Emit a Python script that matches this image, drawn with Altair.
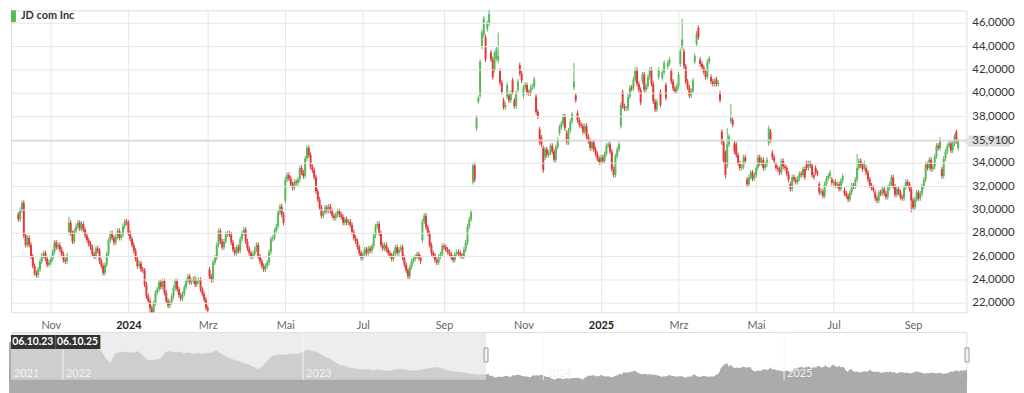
import altair as alt
import pandas as pd

# ---------------- daily closes (JD com Inc) ----------------
c_2023_10 = [29.2, 30.0, 30.6, 27.8, 27.0, 27.6, 27.0, 26.0, 25.2, 24.6, 24.4, 24.9, 25.6, 26.1, 26.3, 25.8, 25.3, 25.5]
c_2023_11 = [25.8, 26.4, 27.2, 26.8, 27.0, 26.6, 26.2, 25.7, 25.6, 26.1, 28.9, 28.0, 27.3, 28.2, 28.6, 28.9, 28.4, 28.8, 28.3, 27.8, 27.4, 27.1]
c_2023_12 = [26.8, 26.2, 26.0, 26.7, 26.5, 25.6, 25.2, 24.6, 25.3, 26.2, 27.4, 28.0, 27.6, 27.2, 27.7, 28.2, 27.6, 27.9, 28.6, 29.0, 28.9]
c_2024_01 = [28.0, 27.5, 27.0, 26.5, 25.8, 25.2, 25.4, 24.9, 24.8, 23.6, 22.6, 22.2, 21.6, 21.1, 22.0, 22.9, 23.2, 23.8, 23.4, 23.9, 22.9, 22.2, 21.8]
c_2024_02 = [22.1, 22.6, 23.3, 23.9, 23.2, 22.7, 22.4, 22.8, 23.4, 23.9, 24.3, 23.8, 23.9, 24.1, 23.6, 23.9, 24.0, 23.2, 22.8, 22.3, 21.6]
c_2024_03 = [21.4, 24.3, 24.0, 25.5, 25.9, 27.0, 28.2, 27.3, 26.8, 27.3, 27.9, 28.0, 27.9, 27.2, 26.6, 26.3, 26.8, 26.5, 27.5, 28.0, 28.3]
c_2024_04 = [27.3, 26.7, 26.3, 26.0, 26.2, 26.6, 27.0, 26.0, 25.6, 25.2, 24.9, 25.2, 25.5, 26.4, 27.5, 27.6, 28.2, 28.6, 29.8, 30.3, 29.6, 28.9]
c_2024_05 = [32.6, 33.0, 32.7, 32.2, 31.9, 32.4, 32.3, 32.6, 33.6, 33.2, 32.9, 34.4, 35.3, 34.7, 33.7, 33.4, 32.8, 31.6, 30.9, 30.2, 29.5, 29.8, 30.2]
c_2024_06 = [29.9, 30.3, 29.9, 29.5, 29.3, 29.6, 29.9, 29.6, 29.4, 28.9, 29.2, 28.9, 29.0, 28.7, 28.1, 27.6, 27.3, 26.8, 26.3, 25.9]
c_2024_07 = [26.2, 26.6, 26.3, 26.7, 26.5, 26.9, 27.8, 28.6, 28.8, 28.0, 27.0, 26.7, 27.0, 26.6, 26.3, 26.1, 25.8, 26.3, 26.8, 26.3, 26.6, 26.8, 25.9]
c_2024_08 = [25.3, 24.8, 24.3, 25.1, 25.6, 25.8, 26.0, 26.2, 25.9, 25.6, 29.0, 29.5, 28.5, 28.0, 27.0, 26.3, 26.1, 25.7, 25.5, 26.0, 26.2, 26.9]
c_2024_09 = [26.8, 26.6, 26.4, 26.2, 25.9, 25.7, 26.2, 26.4, 26.3, 26.1, 26.0, 26.6, 27.2, 28.6, 29.2, 29.8, 33.8, 32.6, 37.9, 39.6, 42.7]
c_2024_10 = [45.2, 46.4, 42.9, 46.0, 46.8, 42.9, 41.4, 43.4, 43.8, 43.2, 40.9, 40.1, 38.8, 39.0, 40.7, 39.4, 40.0, 40.1, 38.9, 40.0, 41.0, 41.7, 41.1]
c_2024_11 = [40.5, 40.7, 40.1, 40.0, 40.5, 40.6, 41.2, 38.4, 38.0, 35.8, 35.6, 33.4, 35.2, 34.7, 34.9, 35.5, 35.0, 34.3, 35.4, 36.0, 37.1]
c_2024_12 = [37.4, 38.0, 37.0, 35.8, 36.8, 37.6, 38.2, 41.0, 39.4, 37.7, 37.3, 37.2, 36.7, 37.2, 36.3, 35.9, 35.3, 35.8, 35.2, 34.8, 34.4, 34.1]
c_2025_01 = [34.5, 34.2, 34.8, 35.5, 35.6, 35.0, 33.5, 33.0, 34.6, 35.2, 35.6, 39.0, 38.9, 38.7, 38.7, 39.7, 40.5, 40.4, 41.2, 42.0, 40.8, 40.3, 39.2]
c_2025_02 = [41.6, 40.3, 40.6, 41.4, 42.0, 40.8, 39.3, 38.6, 39.3, 42.0, 39.0, 41.8, 42.6, 39.6, 42.6, 42.9, 41.0, 40.4, 40.2, 40.6]
c_2025_03 = [41.6, 43.6, 44.6, 42.3, 41.0, 40.5, 39.8, 40.2, 41.1, 43.2, 45.1, 44.8, 42.5, 42.2, 41.8, 41.4, 42.7, 43.0, 41.0, 40.8, 41.1]
c_2025_04 = [40.8, 40.9, 39.4, 35.8, 34.2, 33.0, 35.6, 36.3, 37.9, 37.3, 35.0, 34.7, 34.0, 33.6, 33.7, 34.5, 34.2, 32.2, 32.8, 33.2, 32.7, 33.0]
c_2025_05 = [33.6, 34.5, 34.0, 34.3, 33.6, 33.9, 34.3, 37.0, 36.0, 34.5, 34.2, 33.6, 33.5, 33.2, 34.2, 33.7, 33.6, 33.1, 32.6, 31.8, 32.8, 32.6]
c_2025_06 = [32.4, 32.7, 33.1, 33.0, 33.5, 32.8, 33.6, 34.0, 33.8, 33.0, 32.8, 33.2, 33.1, 31.5, 31.6, 31.2, 32.2, 32.7, 32.9, 33.2, 32.3]
c_2025_07 = [32.4, 32.1, 32.2, 31.8, 32.5, 32.9, 31.4, 31.2, 30.9, 31.5, 32.1, 32.0, 32.6, 33.6, 34.2, 33.8, 33.5, 34.0, 33.2, 32.6, 32.1, 31.9, 31.7]
c_2025_08 = [31.0, 30.8, 31.5, 31.4, 31.8, 31.4, 31.1, 31.9, 32.2, 32.8, 32.0, 31.3, 31.8, 31.5, 31.1, 31.0, 31.9, 32.4, 32.2, 31.8, 30.8]
c_2025_09 = [30.2, 30.9, 31.5, 31.0, 31.4, 32.0, 32.6, 33.9, 33.6, 34.3, 33.5, 33.7, 34.6, 35.5, 35.3, 36.0, 32.9, 34.4, 35.0, 35.5, 35.7, 35.1, 35.7, 36.3, 35.9, 35.91]

# opening prices where the day opened away from the previous close
gap_open = {0: 29.6, 28: 28.1, 106: 24.9, 148: 30.8, 224: 27.4, 252: 32.4, 254: 37.0, 255: 39.3,
            256: 39.8, 257: 44.0, 258: 45.0, 259: 44.8, 260: 45.5, 262: 43.5, 264: 42.0, 265: 43.0,
            266: 42.8, 267: 41.9, 269: 39.4, 271: 39.7, 272: 39.8, 274: 41.1, 275: 39.4, 277: 40.3,
            278: 42.4, 280: 39.8, 287: 39.7, 289: 36.9, 290: 36.2, 291: 35.3, 292: 34.5, 300: 36.6,
            304: 36.6, 308: 40.5, 309: 39.8, 310: 38.3, 334: 37.2, 335: 40.1, 346: 41.0, 355: 41.4,
            356: 40.1, 357: 41.3, 359: 40.7, 360: 42.3, 362: 41.9, 367: 42.5, 368: 43.9, 369: 43.6,
            375: 42.7, 376: 44.2, 377: 45.6, 378: 42.9, 384: 41.4, 387: 41.2, 389: 40.0, 390: 36.7,
            392: 34.9, 393: 33.8, 395: 37.6, 396: 37.7, 397: 35.7, 398: 35.6, 404: 32.6, 416: 35.7,
            417: 36.7, 418: 34.9, 420: 33.9, 428: 32.2, 437: 34.0, 442: 33.6, 444: 32.2, 451: 32.6,
            458: 31.7, 469: 33.6, 470: 33.6, 475: 31.5, 512: 33.5, 520: 36.7, 521: 35.3}
# long wicks visible in the chart
high_wick = {261: 47.6, 368: 46.4, 266: 45.2, 308: 42.6, 393: 37.0, 395: 39.1, 520: 36.9, 28: 29.4, 465: 34.8}
low_wick = {495: 29.8, 73: 20.9, 105: 21.0, 392: 32.7}

# navigator: weekly closes Oct 2021 - Oct 2023, then the daily series
nav_weekly = [80, 82, 85, 86, 89, 92, 88, 84, 80, 76, 72, 70, 74, 76, 75, 70, 76, 78, 74, 70,
              67, 55, 47.5, 62, 64, 65, 64, 64, 66, 60, 52.5, 52, 53, 55, 65, 66, 64, 65, 63, 64,
              62, 63, 62, 63, 64, 67, 62, 58, 55, 52, 50, 47, 45, 42, 37.5, 42, 50, 58, 60, 61,
              60, 62, 62, 62, 66, 68.5, 66, 64, 60, 56, 53, 48, 44, 43, 40, 39, 38, 37, 37.5, 36,
              37, 36, 35, 36, 37, 38, 37, 36, 35.5, 36, 38, 39, 40, 41, 39, 36, 35, 34, 33, 32,
              31, 30, 29, 29.5]

tick_labels = ["Nov", "2024", "Mrz", "Mai", "Jul", "Sep", "Nov", "2025", "Mrz", "Mai", "Jul", "Sep"]
y_ticks = [22, 24, 26, 28, 30, 32, 34, 36, 38, 40, 42, 44, 46]
year_labels = ["2021", "2022", "2023", "2024", "2025"]
range_labels = ["06.10.23", "06.10.25"]
series_name = "JD com Inc"
last_label = "35,9100"

GREEN = "#5cb85c"
RED = "#e03a3a"
FONT = "Lato"

closes = (c_2023_10 + c_2023_11 + c_2023_12 + c_2024_01 + c_2024_02 + c_2024_03 + c_2024_04 +
          c_2024_05 + c_2024_06 + c_2024_07 + c_2024_08 + c_2024_09 + c_2024_10 + c_2024_11 +
          c_2024_12 + c_2025_01 + c_2025_02 + c_2025_03 + c_2025_04 + c_2025_05 + c_2025_06 +
          c_2025_07 + c_2025_08 + c_2025_09)
dates = pd.bdate_range("2023-10-06", "2025-10-06")
n = len(closes)
assert n == len(dates), (n, len(dates))

WICK = 0.22
opens, highs, lows = [], [], []
for i in range(n):
    o = gap_open.get(i, closes[i - 1] if i > 0 else closes[0])
    c = closes[i]
    opens.append(o)
    highs.append(high_wick.get(i, max(o, c) + WICK))
    lows.append(low_wick.get(i, min(o, c) - WICK))

df = pd.DataFrame({"i": range(n), "date": dates, "open": opens, "close": closes,
                   "high": highs, "low": lows})
df["dir"] = ["up" if c >= o else "down" for o, c in zip(opens, closes)]

# ticks at first trading day of every second month
tick_idx = []
seen = set()
for i, d in enumerate(dates):
    key = (d.year, d.month)
    if key not in seen:
        seen.add(key)
        if d.month % 2 == 1 and i > 0:
            tick_idx.append(i)
assert len(tick_idx) == len(tick_labels)

expr = "''"
for ti, tl in reversed(list(zip(tick_idx, tick_labels))):
    expr = f"datum.value == {ti} ? '{tl}' : ({expr})"
bold_test = " || ".join(f"datum.value == {ti}" for ti, tl in zip(tick_idx, tick_labels) if tl.isdigit())

W, H = 962, 304
NH, GAP = 48, 20
xs = alt.Scale(domain=[-1.34, 522.8], nice=False, zero=False)
ys = alt.Scale(domain=[21.23, 47.11], nice=False, zero=False)

color = alt.Color("dir:N", scale=alt.Scale(domain=["up", "down"], range=[GREEN, RED]), legend=None)

x_axis = alt.Axis(values=tick_idx, labelExpr=expr, grid=True, gridColor="#e6e6e6", ticks=False,
                  domain=False, labelPadding=7, labelFontSize=11, labelFont=FONT,
                  labelColor={"condition": {"test": bold_test, "value": "#222222"}, "value": "#666666"},
                  labelFontWeight={"condition": {"test": bold_test, "value": "bold"}, "value": "normal"},
                  labelOverlap=False, labelFlush=False, title=None)

base = alt.Chart(df)
wicks = base.mark_rule(strokeWidth=1, clip=True).encode(
    x=alt.X("i:Q", scale=xs, axis=x_axis),
    y=alt.Y("low:Q", scale=ys, axis=None),
    y2="high:Q", color=color)
bodies = base.mark_bar(size=2, clip=True).encode(
    x="i:Q", y=alt.Y("open:Q", axis=None), y2="close:Q", color=color)

# horizontal grid lines and right-hand price labels
ygrid = pd.DataFrame({"v": y_ticks})
ygrid["lab"] = ["" if v == 36 else f"{v:.4f}".replace(".", ",") for v in y_ticks]
ygrid_l = alt.Chart(ygrid).mark_rule(color="#e6e6e6", strokeWidth=1).encode(
    y=alt.Y("v:Q", axis=None))
ylab_l = alt.Chart(ygrid).mark_text(align="left", baseline="middle", font=FONT, fontSize=11.5,
                                    color="#333333").encode(
    x=alt.value(W + 6), y=alt.Y("v:Q", axis=None), text="lab:N")

last = pd.DataFrame({"p": [closes[-1]], "top": [closes[-1] + 0.48], "bot": [closes[-1] - 0.48],
                     "lab": [last_label]})
last_line = alt.Chart(last).mark_rule(color="#cccccc", strokeWidth=1).encode(
    y=alt.Y("p:Q", axis=None))
last_box = alt.Chart(last).mark_rect(fill="#dedede").encode(
    x=alt.value(W + 2), x2=alt.value(W + 44), y=alt.Y("top:Q", axis=None), y2="bot:Q")
last_ptr = alt.Chart(last).mark_point(shape="triangle-left", filled=True, size=45, color="#dedede",
                                      opacity=1).encode(x=alt.value(W - 1), y=alt.Y("p:Q", axis=None))
last_txt = alt.Chart(last).mark_text(align="left", baseline="middle", font=FONT, fontSize=11.5,
                                     color="#333333").encode(
    x=alt.value(W + 6), y=alt.Y("p:Q", axis=None), text="lab:N")

leg = pd.DataFrame({"name": [series_name]})
leg_box = alt.Chart(leg).mark_rect(fill=GREEN, cornerRadius=1).encode(
    x=alt.value(0), x2=alt.value(5), y=alt.value(0), y2=alt.value(12))
leg_txt = alt.Chart(leg).mark_text(align="left", baseline="middle", font=FONT, fontSize=11,
                                   fontWeight="bold", color="#333333").encode(
    x=alt.value(10), y=alt.value(6), text="name:N")

main = alt.layer(wicks, bodies, ygrid_l, ylab_l, last_line, last_box, last_ptr, last_txt,
                 leg_box, leg_txt).properties(width=W, height=H)

# ---------------- navigator ----------------
wk_dates = pd.date_range("2021-10-11", periods=len(nav_weekly), freq="7D")
nav = pd.DataFrame({"date": list(wk_dates) + list(dates), "v": nav_weekly + closes})
nx = alt.Scale(domain=["2021-10-14", "2025-10-05"])
ny = alt.Scale(domain=[21, 96], nice=False, zero=False)

nav_area = alt.Chart(nav).mark_area(color="#ababab", opacity=1).encode(
    x=alt.X("date:T", scale=nx, axis=None), y=alt.Y("v:Q", scale=ny, axis=None), y2=alt.value(NH))

mask = pd.DataFrame({"s": [pd.Timestamp("2021-10-14")], "e": [dates[0]]})
nav_mask = alt.Chart(mask).mark_rect(fill="#e2e2e2", opacity=0.63).encode(
    x="s:T", x2="e:T", y=alt.value(0), y2=alt.value(NH))

yrs = pd.DataFrame({"d": pd.to_datetime(["2021-10-14", "2022-01-01", "2023-01-01", "2024-01-01", "2025-01-01"]),
                    "lab": year_labels})
nav_lines = alt.Chart(yrs.iloc[1:]).mark_rule(color="#f4f4f4", strokeWidth=1).encode(x="d:T")
nav_years = alt.Chart(yrs).mark_text(align="left", baseline="bottom", dx=3, dy=-1, font=FONT,
                                     fontSize=11, color="#f2f2f2").encode(
    x="d:T", y=alt.value(NH), text="lab:N")

handles = pd.DataFrame({"d": [dates[0], dates[-1]]})
nav_handles = alt.Chart(handles).mark_tick(orient="vertical", thickness=4, size=14, fill="#f2f2f2",
                                           stroke="#999999", strokeWidth=1, opacity=1).encode(
    x="d:T", y=alt.value(23))

rl = pd.DataFrame({"a": [range_labels[0]], "b": [range_labels[1]]})
nav_box = alt.Chart(rl).mark_rect(fill="#333333").encode(
    x=alt.value(0), x2=alt.value(90), y=alt.value(3), y2=alt.value(17))
nav_div = alt.Chart(rl).mark_rule(color="#666666").encode(
    x=alt.value(45), y=alt.value(3), y2=alt.value(17))
nav_t1 = alt.Chart(rl).mark_text(font=FONT, fontSize=10.5, fontWeight="bold", color="white",
                                 baseline="middle").encode(x=alt.value(22), y=alt.value(10), text="a:N")
nav_t2 = alt.Chart(rl).mark_text(font=FONT, fontSize=10.5, fontWeight="bold", color="white",
                                 baseline="middle").encode(x=alt.value(67), y=alt.value(10), text="b:N")

navigator = alt.layer(nav_area, nav_mask, nav_lines, nav_years, nav_handles,
                      nav_box, nav_div, nav_t1, nav_t2).properties(width=W, height=NH)

chart = alt.vconcat(main, navigator, spacing=GAP, bounds="flush").properties(
    padding=0).configure_view(stroke="#dde3ea").configure(font=FONT)

chart.save("out.html", embed_options={"renderer": "svg", "actions": False})
